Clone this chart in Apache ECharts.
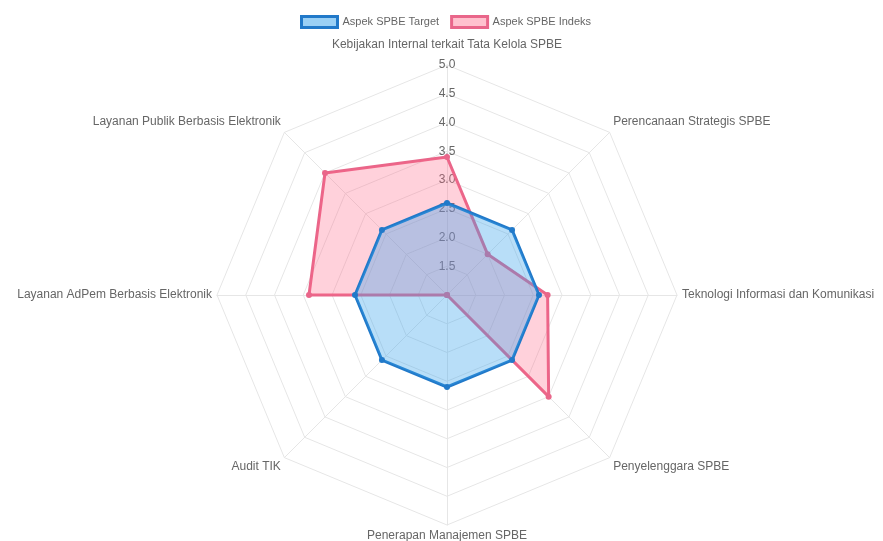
<!DOCTYPE html>
<html>
<head>
<meta charset="utf-8">
<script src="https://cdn.jsdelivr.net/npm/echarts@6/dist/echarts.min.js"></script>
<style>
html,body{margin:0;padding:0;background:#fff;}
#chart{width:883px;height:541px;}
</style>
</head>
<body>
<div id="chart"></div>
<script>
// Categories in clockwise order starting from the top
const categories = [
  'Kebijakan Internal terkait Tata Kelola SPBE',
  'Perencanaan Strategis SPBE',
  'Teknologi Informasi dan Komunikasi',
  'Penyelenggara SPBE',
  'Penerapan Manajemen SPBE',
  'Audit TIK',
  'Layanan AdPem Berbasis Elektronik',
  'Layanan Publik Berbasis Elektronik'
];
const targetValues = [2.6, 2.6, 2.6, 2.6, 2.6, 2.6, 2.6, 2.6];
const indeksValues = [3.4, 2.0, 2.75, 3.5, 1.0, 1.0, 3.4, 4.0];
const seriesNames = ['Aspek SPBE Target', 'Aspek SPBE Indeks'];
const scaleMin = 1.0, scaleMax = 5.0, scaleStep = 0.5;

// ECharts radar goes counter-clockwise; reorder so the picture runs clockwise
function ccw(arr){ return [arr[0]].concat(arr.slice(1).reverse()); }

const indicator = ccw(categories).map((name, i) => {
  const o = { name: name, min: scaleMin, max: scaleMax };
  if (i === 0) o.axisLabel = { show: true };
  return o;
});

const FONT = 'Liberation Sans, Arial, sans-serif';
const BLUE = '#2179c9', PINK = '#e9668a';
const upper = [categories[1], categories[7]];
const lower = [categories[3], categories[5]];

const chart = echarts.init(document.getElementById('chart'));
chart.setOption({
  animation: false,
  textStyle: { fontFamily: FONT },
  legend: {
    top: 10,
    left: 295,
    itemWidth: 36,
    itemHeight: 11,
    itemGap: 11,
    icon: 'rect',
    textStyle: { color: '#666', fontSize: 11, fontFamily: FONT },
    data: [
      { name: seriesNames[0], itemStyle: { color: 'rgba(54,162,235,0.5)', borderColor: BLUE, borderWidth: 3 } },
      { name: seriesNames[1], itemStyle: { color: 'rgba(255,99,132,0.4)', borderColor: PINK, borderWidth: 3 } }
    ]
  },
  radar: {
    center: [447, 295],
    radius: 230,
    shape: 'polygon',
    splitNumber: Math.round((scaleMax - scaleMin) / scaleStep),
    indicator: indicator,
    nameGap: 5,
    axisName: {
      color: '#666', fontSize: 12, fontFamily: FONT,
      formatter: function (value) {
        if (value === categories[0]) return '{t|' + value + '}';
        if (upper.indexOf(value) >= 0) return '{u|' + value + '}';
        if (lower.indexOf(value) >= 0) return '{d|' + value + '}';
        return value;
      },
      rich: {
        t: { color: '#666', fontSize: 12, fontFamily: FONT, padding: [0, 0, 9, 0] },
        u: { color: '#666', fontSize: 12, fontFamily: FONT, padding: [0, 0, 14, 0] },
        d: { color: '#666', fontSize: 12, fontFamily: FONT, padding: [12, 0, 0, 0] }
      }
    },
    splitLine: { lineStyle: { color: '#e6e6e6', width: 1 } },
    splitArea: { show: false },
    axisLine: { lineStyle: { color: '#e6e6e6', width: 1 } },
    axisTick: { show: false },
    axisLabel: {
      show: false,
      showMinLabel: false,
      color: '#666',
      fontSize: 12,
      margin: 0,
      align: 'center',
      verticalAlign: 'middle',
      formatter: v => Number(v).toFixed(1)
    }
  },
  series: [
    {
      type: 'radar',
      name: seriesNames[1],
      z: 2,
      symbol: 'circle',
      symbolSize: 6,
      lineStyle: { color: PINK, width: 3 },
      itemStyle: { color: PINK },
      areaStyle: { color: 'rgba(255,99,132,0.42)' },
      data: [{ value: ccw(indeksValues), name: seriesNames[1] }]
    },
    {
      type: 'radar',
      name: seriesNames[0],
      z: 3,
      symbol: 'circle',
      symbolSize: 6,
      lineStyle: { color: BLUE, width: 3 },
      itemStyle: { color: BLUE },
      areaStyle: { color: 'rgba(54,162,235,0.5)' },
      data: [{ value: ccw(targetValues), name: seriesNames[0] }]
    }
  ]
});
</script>
</body>
</html>
